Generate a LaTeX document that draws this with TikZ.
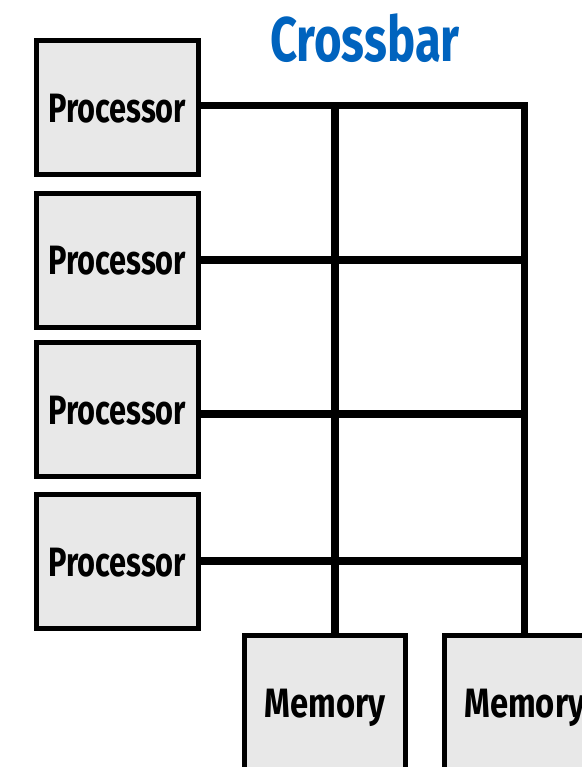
\documentclass[tikz,border=0pt]{standalone}
\usepackage{fontspec}
\newfontfamily\condfont[FakeStretch=0.75]{Fira Sans}
\newfontfamily\memfont[FakeStretch=0.80]{Fira Sans}
\usepackage{tikz}
\usetikzlibrary{positioning, calc, backgrounds}
\definecolor{boxgray}{HTML}{E8E8E8}
\definecolor{titleblue}{HTML}{0063BE}

\begin{document}
\begin{tikzpicture}[x=1pt, y=-1pt,
    unitbox/.style={draw=black, fill=boxgray, line width=5pt, minimum width=161.5pt, minimum height=134.3pt, inner sep=0pt,
        font=\condfont\bfseries\fontsize{41}{48}\selectfont, text height=29pt, text depth=0pt},
    membox/.style={unitbox, font=\memfont\bfseries\fontsize{41}{48}\selectfont},
    bus/.style={line width=7.6pt, black}]
    \useasboundingbox (0,0) rectangle (581,767);

    % Processors and memories
    \node[unitbox] (p1) at (117.25,107.75) {Processor};
    \node[unitbox] (p2) at (117.25,260.25) {Processor};
    \node[unitbox] (p3) at (117.25,409.5) {Processor};
    \node[unitbox] (p4) at (117.25,561.5) {Processor};
    \node[membox] (m1) at (325,702.5) {Memory};
    \node[membox] (m2) at (524.75,702.5) {Memory};

    % Crossbar points
    \coordinate (c1) at (335,105.5);
    \coordinate (c2) at (524.5,105.5);
    \coordinate (r2) at (528.3,260);
    \coordinate (r3) at (528.3,414);
    \coordinate (r4) at (528.3,561);

    % Crossbar wires, behind the boxes
    \begin{pgfonlayer}{background}
        \draw[bus, line join=miter] (p1.east |- c2) -- (c2) -- (c2 |- m2.north);
        \draw[bus] (c1) -- (c1 |- m1.north);
        \draw[bus] (p2.east |- r2) -- (r2);
        \draw[bus] (p3.east |- r3) -- (r3);
        \draw[bus] (p4.east |- r4) -- (r4);
    \end{pgfonlayer}

    % Title
    \node[anchor=base, text=titleblue, font=\condfont\bfseries\fontsize{63}{70}\selectfont] (title) at (365,62) {Crossbar};
\end{tikzpicture}
\end{document}
